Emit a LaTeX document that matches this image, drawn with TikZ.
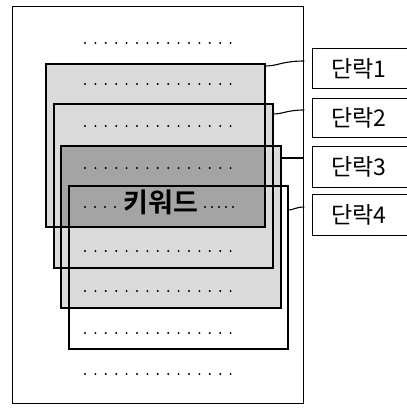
\documentclass[tikz,border=0pt]{standalone}
\usepackage{fontspec}
\newfontfamily\kr{Noto Sans CJK KR}
\newfontfamily\krb{Noto Sans CJK KR Bold}
\usetikzlibrary{calc}
\definecolor{lightfill}{HTML}{DADADA}
\definecolor{darkfill}{HTML}{A4A4A4}
\begin{document}
\begin{tikzpicture}[x=1pt,y=-1pt,
  para/.style={draw=black,line width=1.5pt,inner sep=0pt,anchor=north west},
  labbox/.style={draw=black,line width=1.3pt,inner xsep=19pt,inner ysep=0pt,anchor=north west,
    minimum width=100pt,minimum height=40pt,text width=62pt,align=left,font=\kr\fontsize{23}{23}\selectfont},
  conn/.style={draw=black,line width=1.1pt},
  dotc/.style={fill=black}]
\useasboundingbox (0,0) rectangle (407,408);
% page
\node[draw=black,line width=1.3pt,inner sep=0pt,anchor=north west,minimum width=291pt,minimum height=397pt] (page) at (12,6) {};
% fills
\fill[lightfill] (45,63) rectangle (264,226);
\fill[lightfill] (53,103) rectangle (272,267);
\fill[lightfill] (60,145) rectangle (280,307);
\fill[darkfill] (60,145) rectangle (264,226);
% paragraphs outlines
\node[para,minimum width=219pt,minimum height=163pt] (r1) at (45,63) {};
\node[para,minimum width=219pt,minimum height=164pt] (r2) at (53,103) {};
\node[para,minimum width=220pt,minimum height=162pt,line width=1.7pt] (r3) at (60,145) {};
\node[para,minimum width=219pt,minimum height=163pt,line width=1.8pt] (r4) at (68,185) {};
% dot rows
\foreach \y in {43,84,126,168,251,291,333,374}{
  \foreach \i in {0,...,14}{
    \fill[dotc] (85+\i*10.4,\y) circle (1.1pt);
  }
}
\foreach \x in {85,95,105,115}{\fill[dotc] (\x,207) circle (1.1pt);}
\foreach \x in {205,212,219,226,233}{\fill[dotc] (\x,207) circle (1.1pt);}
% keyword
\node[font=\krb\fontsize{27}{27}\selectfont,inner sep=0pt] (kw) at (161,202) {키워드};
% labels
\node[labbox] (l1) at (312,48) {단락1};
\node[labbox,minimum height=39pt] (l2) at (312,98) {단락2};
\node[labbox,minimum height=41pt] (l3) at (312,146) {단락3};
\node[labbox,minimum height=41pt] (l4) at (312,194) {단락4};
% connectors
\coordinate (c1) at (page.east |- 0,61);
\coordinate (c2) at (page.east |- 0,110);
\coordinate (c3) at (page.east |- 0,158);
\coordinate (c4) at (page.east |- 0,207);
\draw[conn] (r1.east |- 0,66) .. controls (278,66) and (282,61) .. (c1);
\draw[conn] (r2.east |- 0,114) .. controls (283,114) and (287,110) .. (c2);
\draw[conn] (r3.east |- 0,158) -- (c3);
\draw[conn] (r4.east |- 0,210) .. controls (293,210) and (296,207) .. (c4);
\end{tikzpicture}
\end{document}
